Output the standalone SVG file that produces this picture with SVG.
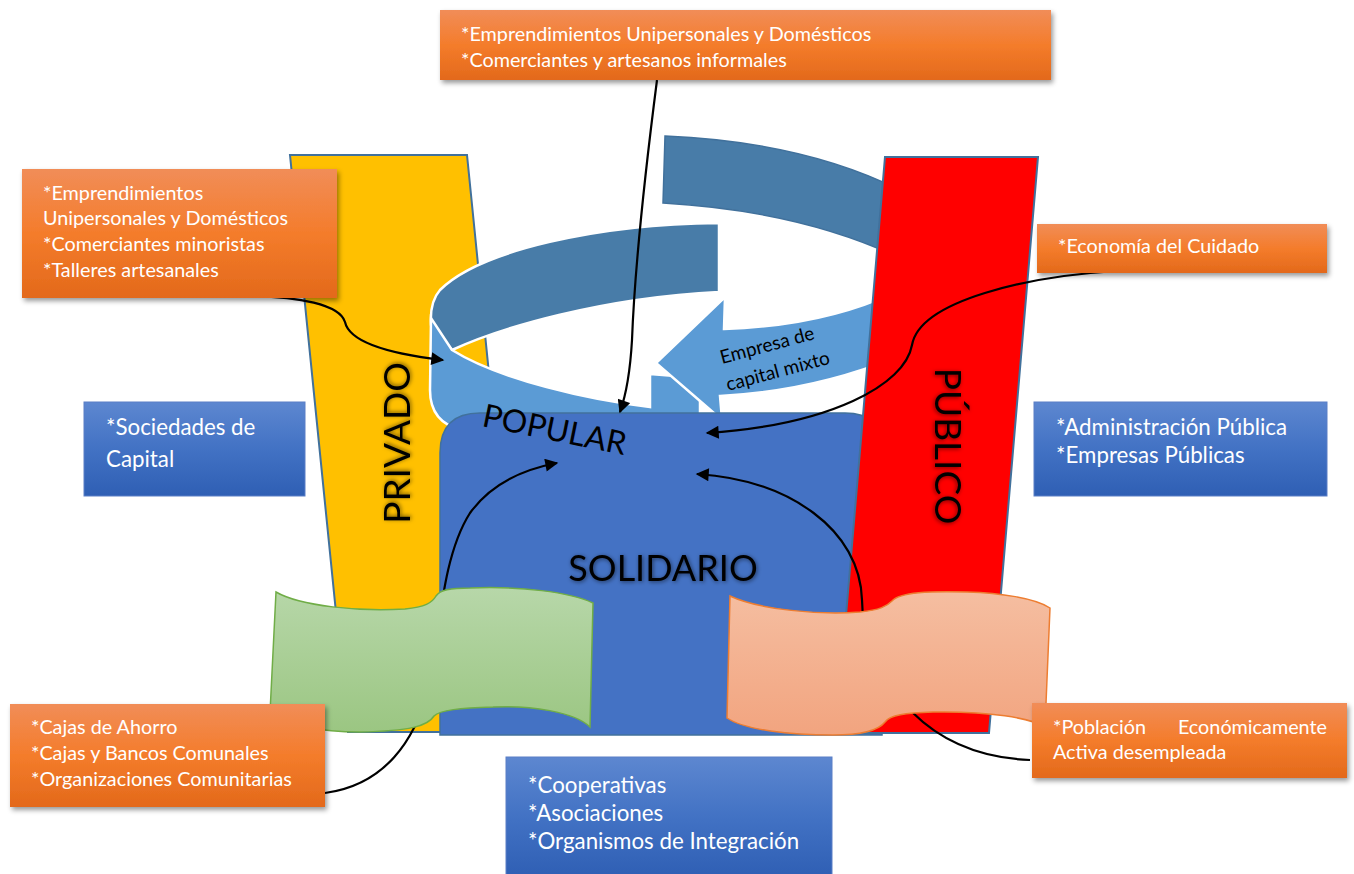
<svg xmlns="http://www.w3.org/2000/svg" width="1354" height="874" viewBox="0 0 1354 874">
<defs>
<style>
.bx{font-family:Lato,"Open Sans","Liberation Sans",sans-serif;font-size:19.8px;fill:#fff}
.bb{font-size:22.3px}
.big{font-family:Lato,"Open Sans","Liberation Sans",sans-serif;fill:#000}
.con{fill:none;stroke:#000;stroke-width:2.2;marker-end:url(#ah)}
.col{stroke:#41719C;stroke-width:2}
</style>
<linearGradient id="gO" x1="0" y1="0" x2="0" y2="1"><stop offset="0" stop-color="#F18D58"/><stop offset="0.5" stop-color="#F47C2B"/><stop offset="1" stop-color="#E3691B"/></linearGradient>
<linearGradient id="gB" x1="0" y1="0" x2="0" y2="1"><stop offset="0" stop-color="#5D87D0"/><stop offset="0.5" stop-color="#4272C4"/><stop offset="1" stop-color="#2F5FB4"/></linearGradient>
<linearGradient id="gG" x1="0" y1="0" x2="0" y2="1"><stop offset="0" stop-color="#B7D7A9"/><stop offset="1" stop-color="#9BC682"/></linearGradient>
<linearGradient id="gS" x1="0" y1="0" x2="0" y2="1"><stop offset="0" stop-color="#F5BEA1"/><stop offset="1" stop-color="#F2A47F"/></linearGradient>
<filter id="sh" x="-5%" y="-10%" width="115%" height="140%"><feDropShadow dx="2" dy="3" stdDeviation="2.5" flood-color="#000" flood-opacity="0.4"/></filter>
<filter id="ts" x="-20%" y="-20%" width="140%" height="140%"><feDropShadow dx="1" dy="1" stdDeviation="2" flood-color="#000" flood-opacity="0.55"/></filter>
<marker id="ah" viewBox="0 0 10 10" refX="9" refY="5" markerWidth="15" markerHeight="13" markerUnits="userSpaceOnUse" orient="auto"><path d="M0,0 L10,5 L0,10 Z" fill="#000"/></marker>
</defs>
<rect width="1354" height="874" fill="#fff"/>

<g id="privado">
<polygon class="col" points="290,155 467,155 525,732 348,732" fill="#FFC000"/>
</g>

<g id="ciclo">
<path d="M665,136 C760,140 840,160 900,190 L900,258 C830,225 750,208 663,203 Z" fill="#487CA8" stroke="#41719C" stroke-width="1.5"/>
<path d="M719,223 C600,224 480,250 440,290 C433,298 430,310 431,325 L452,350 C500,328 600,298 719,292 Z" fill="#487CA8" stroke="#fff" stroke-width="2.5"/>
<path d="M431,318 L430,390 C430,412 440,425 462,430 L700,432 L700,378 L650,374 L650,407 C590,400 500,380 452,350 Z" fill="#5B9BD5" stroke="#fff" stroke-width="2.5"/>
<path d="M656,363 L725,297 L724,329 C780,327 840,318 895,292 L895,358 C840,380 780,393 720,396 L722,420 Z" fill="#5B9BD5" stroke="#fff" stroke-width="2.5"/>
<text class="big" font-size="19" transform="translate(722,364) rotate(-15)">Empresa de</text>
<text class="big" font-size="19" transform="translate(728,391) rotate(-15)">capital mixto</text>
</g>

<g id="solidario">
<path d="M480,413 L845,413 Q882,413 882,450 L882,735 L440,735 L440,453 Q440,413 480,413 Z" fill="#4472C4" stroke="#41719C" stroke-width="1.5"/>
</g>

<g id="publico">
<polygon class="col" points="885,157 1038,157 989,733 836,733" fill="#FF0000"/>
</g>

<g id="etiquetas">
<text class="big" font-size="37" text-anchor="middle" filter="url(#ts)" transform="translate(410,443) rotate(-90)">PRIVADO</text>
<text class="big" font-size="37" text-anchor="middle" filter="url(#ts)" transform="translate(935,446) rotate(90)">PÚBLICO</text>
<text class="big" font-size="32" transform="translate(481,426) rotate(11.5)">POPULAR</text>
<text class="big" font-size="36" text-anchor="middle" filter="url(#ts)" x="663" y="581">SOLIDARIO</text>
</g>

<g id="conectores">
<path class="con" d="M657,80 C648,150 635,260 632,340 C630,375 626,395 620,412"/>
<path class="con" d="M245,296 C300,296 340,305 345,322 C350,345 400,355 443,360"/>
<path class="con" d="M1117,271 C1030,276 920,300 912,345 C905,385 830,425 707,433"/>
<path class="con" d="M325,793 C385,785 415,740 428,690 C440,640 440,560 470,513 C490,485 520,470 557,463"/>
<path class="con" d="M1030,760 C980,758 940,740 912,712 C880,680 862,640 862,600 C860,530 790,480 697,474"/>
</g>

<g id="bandera-verde">
<path d="M276,592 C300,606 360,612 405,609 C425,607 432,603 436,596 C440,590 450,588 470,588 C520,586 570,592 593,603 L590,727 C575,712 530,705 493,707 C460,708 440,710 434,716 C428,726 410,731 360,732 C320,732 285,725 270,713 Z" fill="url(#gG)" stroke="#70AD47" stroke-width="1.5"/>
</g>

<g id="bandera-salmon">
<path d="M730,596 C760,610 820,615 860,612 C880,610 887,606 892,601 C900,592 930,591 967,592 C1000,593 1035,598 1050,608 L1045,727 C1030,718 990,711 933,712 C905,713 890,715 885,722 C878,731 860,735 833,735 C790,735 745,730 727,718 Z" fill="url(#gS)" stroke="#ED7D31" stroke-width="1.5"/>
</g>

<g id="caja-superior">
<rect x="440" y="10" width="611" height="70" fill="url(#gO)" filter="url(#sh)"/>
<text class="bx" x="461" y="41">*Emprendimientos Unipersonales y Domésticos</text>
<text class="bx" x="461" y="67">*Comerciantes y artesanos informales</text>
</g>

<g id="caja-izquierda">
<rect x="22" y="169" width="315" height="129" fill="url(#gO)" filter="url(#sh)"/>
<text class="bx" x="43" y="200">*Emprendimientos</text>
<text class="bx" x="43" y="225">Unipersonales y Domésticos</text>
<text class="bx" x="43" y="251">*Comerciantes minoristas</text>
<text class="bx" x="43" y="277">*Talleres artesanales</text>
</g>

<g id="caja-cuidado">
<rect x="1037" y="224" width="290" height="49" fill="url(#gO)" filter="url(#sh)"/>
<text class="bx" x="1058" y="253">*Economía del Cuidado</text>
</g>

<g id="caja-sociedades">
<rect x="84" y="402" width="221" height="94" fill="url(#gB)" stroke="#5B7FC6" stroke-width="1"/>
<text class="bx bb" x="106" y="435">*Sociedades de</text>
<text class="bx bb" x="106" y="467">Capital</text>
</g>

<g id="caja-publica">
<rect x="1034" y="402" width="293" height="94" fill="url(#gB)" stroke="#5B7FC6" stroke-width="1"/>
<text class="bx bb" x="1056" y="435">*Administración Pública</text>
<text class="bx bb" x="1056" y="463">*Empresas Públicas</text>
</g>

<g id="caja-cajas">
<rect x="10" y="704" width="315" height="103" fill="url(#gO)" filter="url(#sh)"/>
<text class="bx" x="31" y="734">*Cajas de Ahorro</text>
<text class="bx" x="31" y="760">*Cajas y Bancos Comunales</text>
<text class="bx" x="31" y="786">*Organizaciones Comunitarias</text>
</g>

<g id="caja-cooperativas">
<rect x="506" y="757" width="326" height="120" fill="url(#gB)" stroke="#5B7FC6" stroke-width="1"/>
<text class="bx bb" x="528" y="793">*Cooperativas</text>
<text class="bx bb" x="528" y="821">*Asociaciones</text>
<text class="bx bb" x="528" y="849">*Organismos de Integración</text>
</g>

<g id="caja-poblacion">
<rect x="1032" y="703" width="315" height="75" fill="url(#gO)" filter="url(#sh)"/>
<text class="bx" x="1053" y="734">*Población</text>
<text class="bx" x="1327" y="734" text-anchor="end">Económicamente</text>
<text class="bx" x="1053" y="759">Activa desempleada</text>
</g>
</svg>
